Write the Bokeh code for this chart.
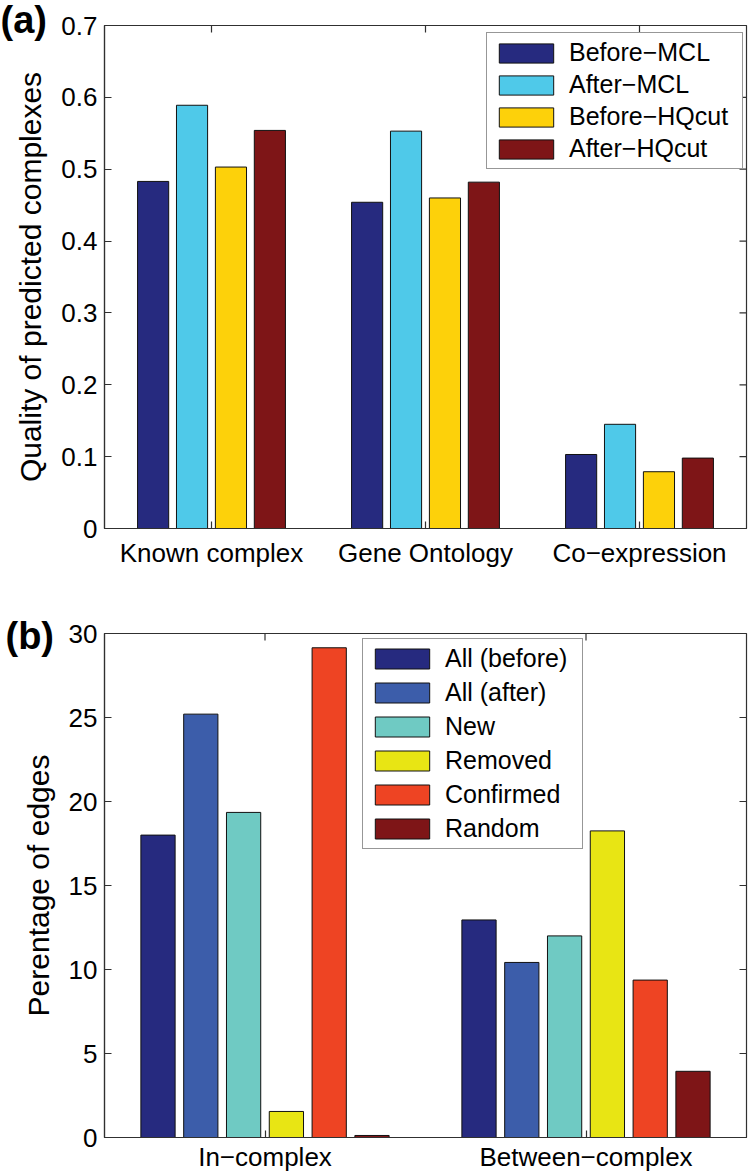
from bokeh.plotting import figure
from bokeh.models import (FactorRange, LinearAxis, CategoricalAxis, Range1d,
                          FixedTicker, Legend, LegendItem, Title)
from bokeh.transform import dodge
from bokeh.layouts import column
from bokeh.embed import file_html
from bokeh.resources import INLINE

FONT = "Liberation Sans"

# ---------------- data: panel (a) ----------------
cats_a = ["Known complex", "Gene Ontology", "Co\u2212expression"]
series_a = ["Before\u2212MCL", "After\u2212MCL", "Before\u2212HQcut", "After\u2212HQcut"]
before_mcl = [0.483, 0.454, 0.103]
after_mcl = [0.589, 0.553, 0.145]
before_hqcut = [0.503, 0.460, 0.079]
after_hqcut = [0.554, 0.482, 0.098]
colors_a = ["#262A7F", "#4FC9E9", "#FDD10A", "#7E1517"]
yticks_a = [0, 0.1, 0.2, 0.3, 0.4, 0.5, 0.6, 0.7]
ytick_labels_a = ["0", "0.1", "0.2", "0.3", "0.4", "0.5", "0.6", "0.7"]
ymax_a = 0.7
ylabel_a = "Quality of predicted complexes"

# ---------------- data: panel (b) ----------------
cats_b = ["In\u2212complex", "Between\u2212complex"]
series_b = ["All (before)", "All (after)", "New", "Removed", "Confirmed", "Random"]
all_before = [18.0, 12.95]
all_after = [25.2, 10.42]
new_edges = [19.35, 12.0]
removed = [1.55, 18.25]
confirmed = [29.15, 9.37]
random_edges = [0.12, 3.94]
colors_b = ["#262A7F", "#3C5DAA", "#6FCAC3", "#E8E514", "#EE4423", "#7E1517"]
yticks_b = [0, 5, 10, 15, 20, 25, 30]
ytick_labels_b = ["0", "5", "10", "15", "20", "25", "30"]
ymax_b = 30
ylabel_b = "Perentage of edges"

AXIS_COLOR = "#303030"
TICK_FS = "26px"
TICK_LEN = 7


def group_layout(n):
    gw = min(0.8, n / (n + 1.5))
    step = gw / n
    offsets = [(i + 0.5) * step - gw / 2 for i in range(n)]
    return offsets, step * 0.8


def style_axis(ax):
    ax.axis_line_color = AXIS_COLOR
    ax.axis_line_width = 1.2
    ax.major_tick_line_color = AXIS_COLOR
    ax.major_tick_line_width = 1.2
    ax.major_tick_in = TICK_LEN
    ax.major_tick_out = 0
    ax.minor_tick_line_color = None
    ax.major_label_text_font = FONT
    ax.major_label_text_color = "black"
    ax.major_label_text_font_size = TICK_FS


def make_panel(cats, series, values, colors, yticks, ytick_labels, ylabel,
               ymax, width, height, borders, legend_loc, x_standoff,
               legend_spacing, legend_glyph_h, legend_label_w,
               panel_text, title_standoff):
    bl, br, bt, bb = borders
    p = figure(x_range=FactorRange(*cats), y_range=Range1d(0, ymax),
               width=width, height=height, output_backend="svg",
               toolbar_location=None, min_border_left=bl, min_border_right=br,
               min_border_top=bt, min_border_bottom=bb,
               x_axis_location=None, y_axis_location=None, title=None)
    p.grid.visible = False
    p.outline_line_color = AXIS_COLOR
    p.outline_line_width = 1.2
    p.background_fill_color = "white"

    offsets, bw = group_layout(len(series))
    renderers = []
    for vals, off, col in zip(values, offsets, colors):
        src = {"cat": cats, "val": vals}
        r = p.vbar(x=dodge("cat", off, range=p.x_range), top="val", width=bw,
                   source=src, fill_color=col, line_color="#111111",
                   line_width=1)
        renderers.append(r)

    # inward ticks on the right and top edges of the box (MATLAB style)
    right_src = {"c": [cats[-1]] * len(yticks), "y": yticks}
    p.scatter(x=dodge("c", 0.5, range=p.x_range), y="y", source=right_src,
              marker="dash", size=2 * TICK_LEN, line_color=AXIS_COLOR,
              line_width=1.2)
    top_src = {"c": cats, "y": [ymax] * len(cats)}
    p.scatter(x="c", y="y", source=top_src, marker="dash", angle=1.5708,
              size=2 * TICK_LEN, line_color=AXIS_COLOR, line_width=1.2)

    ticker = FixedTicker(ticks=yticks)
    overrides = {t: lab for t, lab in zip(yticks, ytick_labels)}

    yl = LinearAxis(ticker=ticker, major_label_overrides=overrides,
                    axis_label=ylabel)
    style_axis(yl)
    yl.major_label_standoff = 7
    yl.axis_label_text_font = FONT
    yl.axis_label_text_font_style = "normal"
    yl.axis_label_text_color = "black"
    yl.axis_label_text_font_size = "30px"
    yl.axis_label_standoff = 11
    p.add_layout(yl, "left")

    xb = CategoricalAxis()
    style_axis(xb)
    xb.major_label_standoff = x_standoff
    p.add_layout(xb, "below")

    items = [LegendItem(label=s, renderers=[r]) for s, r in zip(series, renderers)]
    leg = Legend(items=items, location=legend_loc)
    leg.label_text_font = FONT
    leg.label_text_font_size = "25px"
    leg.label_text_color = "black"
    leg.glyph_width = 68
    leg.glyph_height = legend_glyph_h
    leg.label_height = legend_glyph_h
    leg.label_width = legend_label_w
    leg.label_standoff = 9
    leg.spacing = legend_spacing
    leg.padding = 5
    leg.margin = 0
    leg.border_line_color = AXIS_COLOR
    leg.border_line_width = 1.2
    leg.background_fill_alpha = 1.0
    p.add_layout(leg, "center")

    # panel letter, drawn as a title shifted left of (and partly into) the box
    t = Title(text=panel_text, align="left", offset=-bl,
              vertical_align="bottom", text_font=FONT, text_font_size="38px",
              text_font_style="bold", text_color="black")
    try:
        t.standoff = title_standoff
    except Exception:
        t.standoff = 0
    p.add_layout(t, "above")
    return p


pa = make_panel(cats_a, series_a,
                [before_mcl, after_mcl, before_hqcut, after_hqcut],
                colors_a, yticks_a, ytick_labels_a, ylabel_a, ymax_a,
                755, 574, (104, 9, 25, 46), (382, 359), 9, 3, 24, 168,
                "(a)", -30)

pb = make_panel(cats_b, series_b,
                [all_before, all_after, new_edges, removed, confirmed, random_edges],
                colors_b, yticks_b, ytick_labels_b, ylabel_b, ymax_b,
                755, 600, (99, 9, 59, 37), (258, 288), 4, 5, 25, 132,
                "(b)", -46)

layout = column(pa, pb, spacing=0)
open("out.html", "w").write(file_html(layout, INLINE))
